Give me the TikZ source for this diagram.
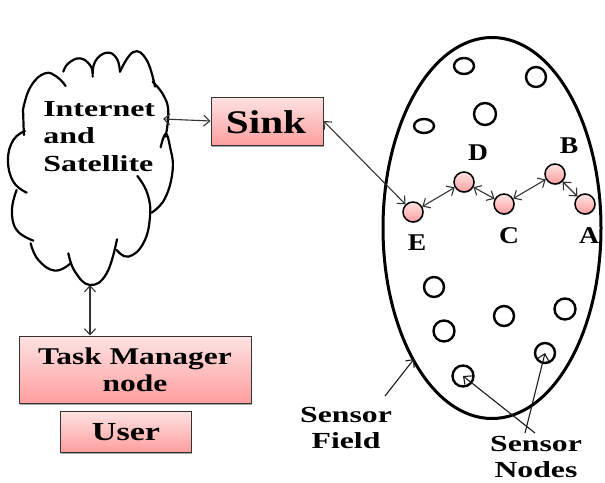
\documentclass[tikz,border=0pt]{standalone}
\usepackage{fontspec}
\setmainfont{Liberation Serif}
\usetikzlibrary{arrows.meta,shadows,shapes.geometric}
\definecolor{pinktop}{HTML}{FDE3E3}
\definecolor{pinkbot}{HTML}{FF9E9E}
\definecolor{edge}{HTML}{333333}
\tikzset{
  pinkbox/.style={draw=edge,line width=1pt,top color=pinktop,bottom color=pinkbot,inner sep=0pt,
    drop shadow={shadow xshift=1pt,shadow yshift=-1.5pt,opacity=.35,fill=black}},
  boldtext/.style={font=\fontsize{#1}{#1}\selectfont\bfseries,text=black,inner sep=0pt},
  stretched/.style={xscale=#1,transform shape},
  sensor/.style={circle,draw=black,line width=1.5pt,top color=pinktop,bottom color=pinkbot,minimum size=20pt,inner sep=0pt,
    drop shadow={shadow xshift=.8pt,shadow yshift=-1pt,opacity=.3,fill=black}},
  idle/.style={ellipse,draw=black,line width=2.4pt,inner sep=0pt,fill=white},
  link/.style={draw=edge,line width=1.1pt,{Straight Barb[length=6pt,width=11pt]}-{Straight Barb[length=6pt,width=11pt]}},
  pointer/.style={draw=black!90,line width=1.1pt,-{Straight Barb[length=6pt,width=11pt]}},
  cloudline/.style={draw=black,line width=2.2pt,line cap=round},
}
\begin{document}
\begin{tikzpicture}[x=1pt,y=-1pt]
\useasboundingbox (0,0) rectangle (605,482);

% Cloud, traced lobe by lobe
\begin{scope}[x=0.3333pt,y=-0.3333pt,yshift=-30pt]
  \draw[cloudline] plot[smooth,tension=.75] coordinates {(197,168) (170,140) (135,130) (95,165) (72,225) (70,262) (72,315)};
  \draw[cloudline] plot[smooth,tension=.75] coordinates {(75,303) (40,330) (24,390) (40,455) (80,488)};
  \draw[cloudline] plot[smooth,tension=.75] coordinates {(50,480) (36,540) (50,600) (100,632)};
  \draw[cloudline] plot[smooth,tension=.75] coordinates {(92,640) (115,690) (165,722) (212,700)};
  \draw[cloudline] plot[smooth,tension=.75] coordinates {(205,670) (225,725) (270,765) (320,730) (351,628)};
  \draw[cloudline] plot[smooth,tension=.75] coordinates {(350,660) (385,680) (430,640) (450,560) (442,490) (412,438)};
  \draw[cloudline] plot[smooth,tension=.75] coordinates {(455,548) (495,505) (518,420) (510,350) (497,312) (482,352)};
  \draw[cloudline] plot[smooth,tension=.75] coordinates {(458,155) (490,195) (505,245) (497,320)};
  \draw[cloudline] plot[smooth,tension=.75] coordinates {(360,125) (400,66) (440,90) (465,170)};
  \draw[cloudline] plot[smooth,tension=.75] coordinates {(278,140) (285,95) (320,68) (350,85) (360,125)};
  \draw[cloudline] plot[smooth,tension=.75] coordinates {(190,125) (205,100) (240,85) (270,105) (278,130)};
\end{scope}
\coordinate (cloudE) at (163,119);
\coordinate (cloudS) at (90,285);
\node[boldtext=23,anchor=west,stretched=1.39] at (43,109) (l1) {Internet};
\node[boldtext=23,anchor=west,stretched=1.39] at (43,136) (l2) {and};
\node[boldtext=23,anchor=west,stretched=1.39] at (43,164) (l3) {Satellite};

% Boxes
\node[pinkbox,minimum width=112pt,minimum height=48pt] (sink) at (267,121) {};
\node[boldtext=33,stretched=1.25] (sinkt) at (266,122) {Sink};
\node[pinkbox,minimum width=232pt,minimum height=67pt] (task) at (135,369.5) {};
\node[boldtext=24,stretched=1.31,align=center] (taskt) at (135,370) {Task Manager\\[3pt]node};
\node[pinkbox,minimum width=131pt,minimum height=41pt] (user) at (125.5,431.5) {};
\node[boldtext=26,stretched=1.31] (usert) at (126,432) {User};

% Sensor field
\node[ellipse,draw=black,line width=3pt,inner sep=0pt,minimum width=218pt,minimum height=381pt] (field) at (492,228) {};

\node[idle,minimum width=20pt,minimum height=16pt] (n1) at (464,66) {};
\node[idle,minimum width=20pt,minimum height=20pt] (n2) at (536,77) {};
\node[idle,minimum width=22pt,minimum height=22pt] (n3) at (485,114) {};
\node[idle,minimum width=20pt,minimum height=14pt] (n4) at (424,126) {};
\node[idle,minimum width=20pt,minimum height=20pt] (n5) at (434,287) {};
\node[idle,minimum width=21pt,minimum height=21pt] (n6) at (444,331) {};
\node[idle,minimum width=20pt,minimum height=20pt] (n7) at (504,316) {};
\node[idle,minimum width=21pt,minimum height=21pt] (n8) at (565,309) {};
\node[idle,minimum width=20pt,minimum height=20pt] (n9) at (545,353) {};
\node[idle,minimum width=21pt,minimum height=21pt] (n10) at (463,376) {};

\node[sensor] (E) at (413,212) {};
\node[sensor] (D) at (464,182) {};
\node[sensor] (C) at (504,204) {};
\node[sensor] (B) at (555,174) {};
\node[sensor] (A) at (585,204) {};

\node[boldtext=24,stretched=1.15] (Et) at (417,243) {E};
\node[boldtext=24,stretched=1.15] (Dt) at (478,153) {D};
\node[boldtext=24,stretched=1.15] (Ct) at (509,236) {C};
\node[boldtext=24,stretched=1.15] (Bt) at (569,146) {B};
\node[boldtext=24,stretched=1.15] (At) at (589,236) {A};

\node[boldtext=23,stretched=1.38,align=center] (sf) at (346,428) {Sensor\\[3pt]Field};
\node[boldtext=23,stretched=1.38,align=center] (sn) at (536,457) {Sensor\\[3pt]Nodes};

% Connectors
\draw[link] (cloudE) -- (sink.west);
\draw[link] (cloudS) -- (task.north -| cloudS);
\draw[link] (sink.east) -- (E);
\draw[link] (E) -- (D);
\draw[link] (D) -- (C);
\draw[link] (C) -- (B);
\draw[link] (B) -- (A);

\coordinate (sfTail) at (385,396);
\coordinate (sfTip) at (414,359);
\draw[pointer] (sfTail) -- (sfTip);
\coordinate (snTailA) at (535,433);
\coordinate (snTailB) at (525,433);
\draw[pointer] (snTailA) -- (n10.center);
\draw[pointer] (snTailB) -- (n9.center);
\end{tikzpicture}
\end{document}
